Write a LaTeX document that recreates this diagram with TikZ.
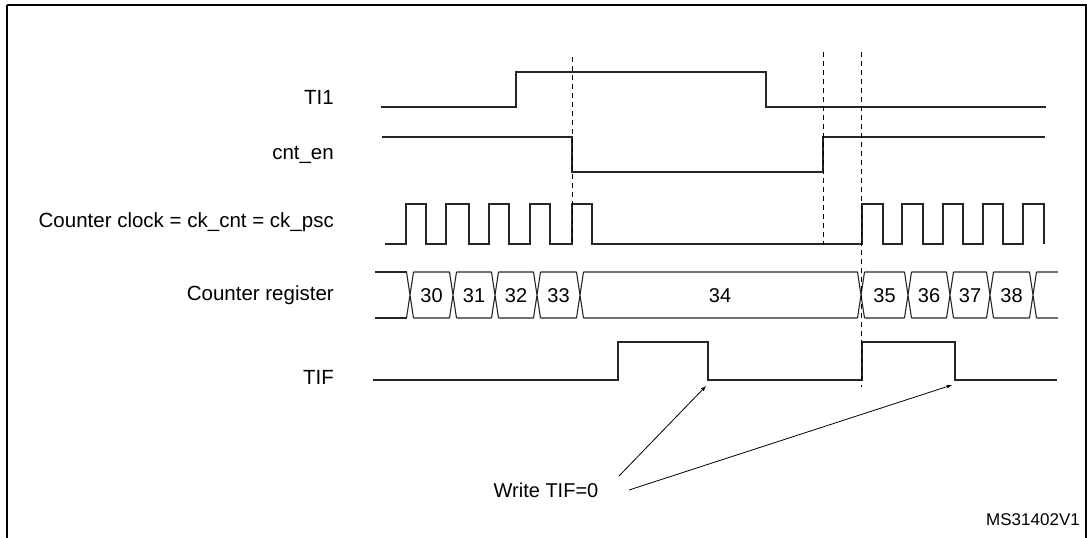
\documentclass[tikz,border=0pt]{standalone}
\usepackage{fontspec}
\setmainfont{Liberation Sans}
\begin{document}
\begin{tikzpicture}[x=1pt,y=-1pt,
  sig/.style={line width=1.1pt,black!85},
  dsh/.style={line width=1pt,dash pattern=on 5pt off 4pt},
  lbl/.style={anchor=east,font=\fontsize{20.5}{23}\selectfont,inner sep=0pt},
  num/.style={font=\fontsize{20}{22}\selectfont,inner sep=0pt},
  arr/.style={line width=0.8pt,-latex}]
\useasboundingbox (0,0) rectangle (1087,538);
\draw[line width=1.5pt] (7,5) -- (7,538) (7,5) -- (1086,5) -- (1086,538);
% labels
\node[lbl] (lti) at (334,97) {TI1};
\node[lbl] (len) at (334,155) {cnt\_en};
\node[lbl] (lck) at (334,222) {Counter clock = ck\_cnt = ck\_psc};
\node[lbl] (lcr) at (334,295) {Counter register};
\node[lbl] (ltif) at (334,377) {TIF};
% TI1
\draw[sig] (381,107) -- (516,107) -- (516,72) -- (766,72) -- (766,107) -- (1046,107);
% cnt_en
\draw[sig] (382,137) -- (572,137) -- (572,172) -- (823,172) -- (823,137) -- (1045,137);
% clock
\draw[sig] (385,244)
 \foreach \r/\f in {406/426,446/469,489/509,530/550,572/592}{ -- (\r,244) -- (\r,204) -- (\f,204) -- (\f,244)}
 -- (862,244)
 \foreach \r/\f in {862/883,902/923,943/963,983/1003,1023/1044}{ -- (\r,244) -- (\r,204) -- (\f,204) -- (\f,244)};
% counter register bus
\draw[sig] (375,272) -- (406.5,272) (375,318) -- (406.5,318);
\foreach \a/\b in {410/453,453/495,495/537,537/580,580/861,861/908,908/950,950/990,990/1033}{
  \draw[sig] (\a-3.5,272) -- (\a+3.5,318) (\a-3.5,318) -- (\a+3.5,272)
    (\a+3.5,272) -- (\b-3.5,272) (\a+3.5,318) -- (\b-3.5,318);}
\draw[sig] (1029.5,272) -- (1036.5,318) (1029.5,318) -- (1036.5,272)
  (1036.5,272) -- (1058,272) (1036.5,318) -- (1058,318);
\foreach \n/\x in {30/431.5,31/474,32/516,33/558.5,34/720,35/884.5,36/929,37/970,38/1011.5}{
  \node[num] (n\n) at (\x,296) {\n};}
% TIF
\draw[sig] (373,380) -- (618,380) -- (618,342) -- (708,342) -- (708,380) -- (862,380) -- (862,342) -- (955,342) -- (955,380) -- (1057,380);
% dashed
\draw[dsh] (572,57) -- (572,245);
\draw[dsh] (823,52) -- (823,245);
\draw[dsh] (861,52) -- (861,387);
% annotation
\node[num] (w) at (546,490) {Write TIF=0};
\coordinate (t1) at (706,386);
\coordinate (t2) at (952,385);
\draw[arr] (619,476) -- (t1);
\draw[arr] (629,490) -- (t2);
\node[anchor=east,font=\fontsize{17}{19}\selectfont,inner sep=0pt] (ms) at (1080,520) {MS31402V1};
\end{tikzpicture}
\end{document}
